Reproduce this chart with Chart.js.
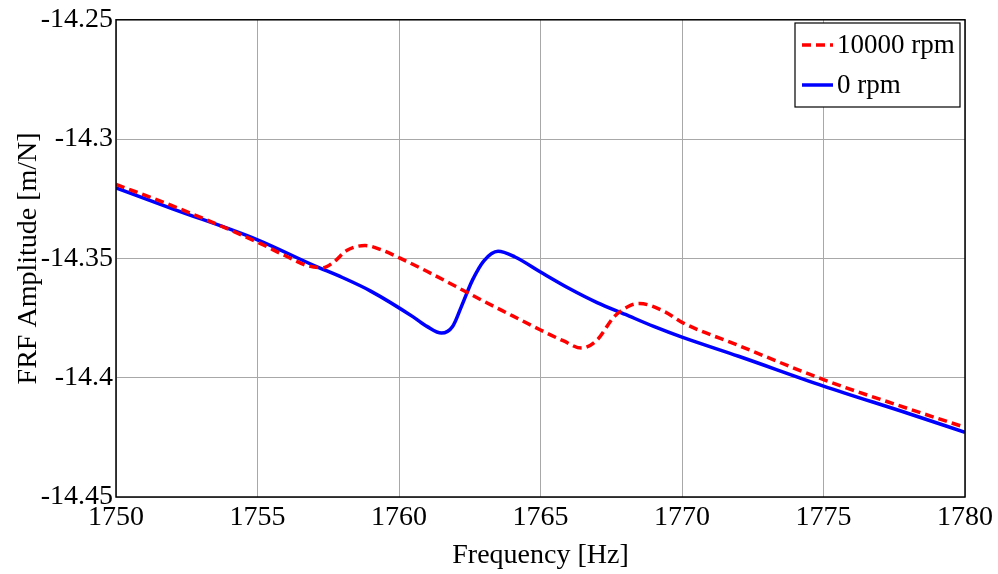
<!DOCTYPE html>
<html>
<head>
<meta charset="utf-8">
<script src="https://cdn.jsdelivr.net/npm/chart.js@4/dist/chart.umd.min.js"></script>
<style>
  html, body { margin: 0; padding: 0; background: #fff; }
  canvas { display: block; }
</style>
</head>
<body>
<canvas id="frf" width="998" height="574"></canvas>
<script>
// ============================================================
// Data (frequency in Hz, amplitude in m/N)
// ============================================================
const FREQ_10000 = [1750, 1752, 1755, 1756, 1756.75, 1757.3, 1757.7, 1758.15, 1758.8, 1759.4,
  1760, 1761, 1762, 1763, 1764, 1765, 1765.8, 1766.45, 1767, 1767.6,
  1768.2, 1768.5, 1769.4, 1770, 1772, 1775, 1778, 1780];
const AMP_10000 = [-14.319, -14.328, -14.3432, -14.349, -14.353, -14.3539, -14.3515, -14.3467, -14.3446, -14.3465,
  -14.3497, -14.3555, -14.3617, -14.368, -14.374, -14.38, -14.3845, -14.3876, -14.3842, -14.3745,
  -14.3696, -14.3689, -14.3724, -14.3768, -14.3865, -14.4008, -14.413, -14.4208];

const FREQ_0 = [1750, 1752, 1755, 1757, 1758, 1759, 1760.5, 1761, 1761.5, 1761.9,
  1762.2, 1762.6, 1763, 1763.5, 1764.1, 1765, 1766, 1767, 1768, 1769,
  1770, 1772, 1775, 1778, 1780];
const AMP_0 = [-14.3204, -14.3292, -14.3422, -14.353, -14.358, -14.3637, -14.3745, -14.3786, -14.3813, -14.3784,
  -14.3703, -14.359, -14.351, -14.347, -14.3494, -14.3557, -14.3625, -14.3685, -14.3735, -14.3785,
  -14.383, -14.391, -14.4035, -14.415, -14.4229];

const X_TICKS = [1750, 1755, 1760, 1765, 1770, 1775, 1780];
const Y_TICKS = [-14.45, -14.4, -14.35, -14.3, -14.25];

const FONT = "'Liberation Serif', 'Times New Roman', serif";

function toPoints(xs, ys) {
  return xs.map((x, i) => ({ x, y: ys[i] }));
}

// ============================================================
// Plugins: axes box + MATLAB-style legend inside the plot
// ============================================================
const boxPlugin = {
  id: 'box',
  afterDraw(chart) {
    const { ctx, chartArea: a } = chart;
    ctx.save();
    ctx.strokeStyle = '#000';
    ctx.lineWidth = 1.5;
    ctx.strokeRect(a.left, a.top, a.right - a.left, a.bottom - a.top);
    ctx.restore();
  },
};

const legendBoxPlugin = {
  id: 'legendBox',
  afterDraw(chart) {
    const { ctx } = chart;
    const x0 = 795, y0 = 23, w = 165, h = 84;
    ctx.save();
    ctx.fillStyle = '#fff';
    ctx.fillRect(x0, y0, w, h);
    ctx.strokeStyle = '#000';
    ctx.lineWidth = 1.2;
    ctx.strokeRect(x0, y0, w, h);
    ctx.font = '27px ' + FONT;
    ctx.textBaseline = 'middle';
    chart.data.datasets.forEach((ds, i) => {
      const y = y0 + 22 + i * 40;
      ctx.strokeStyle = ds.borderColor;
      ctx.lineWidth = ds.borderWidth;
      ctx.setLineDash(ds.borderDash || []);
      ctx.beginPath();
      ctx.moveTo(x0 + 7, y);
      ctx.lineTo(x0 + 38, y);
      ctx.stroke();
      ctx.setLineDash([]);
      ctx.fillStyle = '#000';
      ctx.fillText(ds.label, x0 + 42, y + 1);
    });
    ctx.restore();
  },
};

// ============================================================
// Chart
// ============================================================
new Chart(document.getElementById('frf').getContext('2d'), {
  type: 'line',
  data: {
    datasets: [
      {
        label: '10000 rpm',
        data: toPoints(FREQ_10000, AMP_10000),
        borderColor: '#ff0000',
        borderWidth: 3.5,
        borderDash: [9, 5],
        pointRadius: 0,
        cubicInterpolationMode: 'monotone',
        fill: false,
      },
      {
        label: '0 rpm',
        data: toPoints(FREQ_0, AMP_0),
        borderColor: '#0000ff',
        borderWidth: 3.5,
        pointRadius: 0,
        cubicInterpolationMode: 'monotone',
        fill: false,
      },
    ],
  },
  options: {
    responsive: false,
    animation: false,
    layout: { padding: { left: 0, top: 18, right: 33, bottom: 0 } },
    plugins: { legend: { display: false }, tooltip: { enabled: false } },
    scales: {
      x: {
        type: 'linear',
        min: 1750,
        max: 1780,
        afterBuildTicks: s => { s.ticks = X_TICKS.map(v => ({ value: v })); },
        afterFit: s => { s.height = 77; },
        grid: { color: '#a8a8a8', lineWidth: 1, drawTicks: false },
        border: { display: false },
        ticks: {
          color: '#000',
          font: { family: FONT, size: 28 },
          padding: 4,
          maxRotation: 0,
          callback: v => String(v),
        },
        title: {
          display: true,
          text: 'Frequency [Hz]',
          color: '#000',
          font: { family: FONT, size: 28 },
          padding: { top: 0, bottom: 2 },
        },
      },
      y: {
        type: 'linear',
        min: -14.45,
        max: -14.25,
        afterBuildTicks: s => { s.ticks = Y_TICKS.map(v => ({ value: v })); },
        afterFit: s => { s.width = 116; },
        grid: { color: '#a8a8a8', lineWidth: 1, drawTicks: false },
        border: { display: false },
        ticks: {
          color: '#000',
          font: { family: FONT, size: 28 },
          padding: 3,
          callback: v => String(parseFloat(Number(v).toFixed(2))),
        },
        title: {
          display: true,
          text: 'FRF Amplitude [m/N]',
          color: '#000',
          font: { family: FONT, size: 28 },
          padding: { top: 12, bottom: 0 },
        },
      },
    },
  },
  plugins: [boxPlugin, legendBoxPlugin],
});
</script>
</body>
</html>
